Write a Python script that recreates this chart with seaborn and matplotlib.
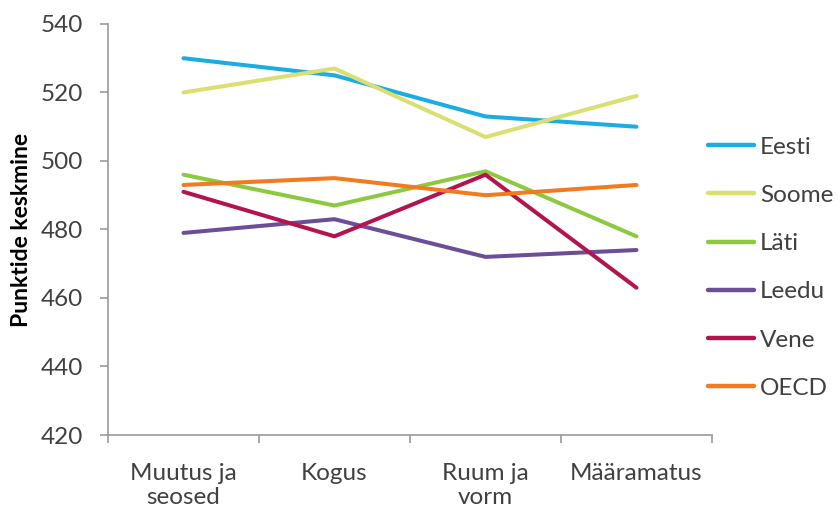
import seaborn as sns
import matplotlib.pyplot as plt
import pandas as pd

categories = ["Muutus ja\nseosed", "Kogus", "Ruum ja\nvorm", "Määramatus"]
eesti = [530, 525, 513, 510]
soome = [520, 527, 507, 519]
lati = [496, 487, 497, 478]
leedu = [479, 483, 472, 474]
vene = [491, 478, 496, 463]
oecd = [493, 495, 490, 493]

series = {"Eesti": eesti, "Soome": soome, "Läti": lati,
          "Leedu": leedu, "Vene": vene, "OECD": oecd}
colors = ["#1AACE3", "#DADF72", "#8DC93F", "#6A4E98", "#B3144F", "#F27A1F"]

rows = []
for name, vals in series.items():
    for i, v in enumerate(vals):
        rows.append({"pos": i, "riik": name, "skoor": v})
df = pd.DataFrame(rows)

sns.set_style("white")
plt.rcParams["font.family"] = ["Lato", "DejaVu Sans"]

fig = plt.figure(figsize=(8.39, 5.08), dpi=100)
ax = fig.add_axes([0.1287, 0.1437, 0.7199, 0.8091])

sns.lineplot(data=df, x="pos", y="skoor", hue="riik", palette=colors,
             linewidth=2.9, ax=ax, sort=False)

fs = 17.5
ax.set_xlim(-0.5, 3.5)
ax.set_ylim(420, 540)
ax.set_yticks(range(420, 541, 20))
ax.set_xticks(range(4))
ax.set_xticklabels(categories, linespacing=1.15)
ax.set_xticks([-0.5, 0.5, 1.5, 2.5, 3.5], minor=True)
ax.tick_params(axis="x", which="major", bottom=False, pad=17, labelsize=fs, labelcolor="#404040")
ax.tick_params(axis="x", which="minor", bottom=True, length=6, width=1.2,
               color="#9a9a9a", direction="out")
ax.tick_params(axis="y", left=True, length=6, width=1.2, color="#9a9a9a", direction="out",
               labelsize=fs, labelcolor="#404040", pad=12)

for s in ["top", "right"]:
    ax.spines[s].set_visible(False)
for s in ["left", "bottom"]:
    ax.spines[s].set_color("#9a9a9a")
    ax.spines[s].set_linewidth(1.2)

ax.set_xlabel("")
ax.set_ylabel("Punktide keskmine", fontsize=16.5, fontweight="bold", color="black")
ax.yaxis.set_label_coords(-0.126, 0.5)

leg = ax.legend(loc="center left", bbox_to_anchor=(0.829, 0.473), bbox_transform=fig.transFigure,
                frameon=False, fontsize=fs, handlelength=1.9, handletextpad=0.25,
                labelspacing=1.12, borderpad=0)
for t in leg.get_texts():
    t.set_color("#404040")
for h in leg.get_lines():
    h.set_linewidth(3.2)

fig.savefig("out.png", dpi=100)
